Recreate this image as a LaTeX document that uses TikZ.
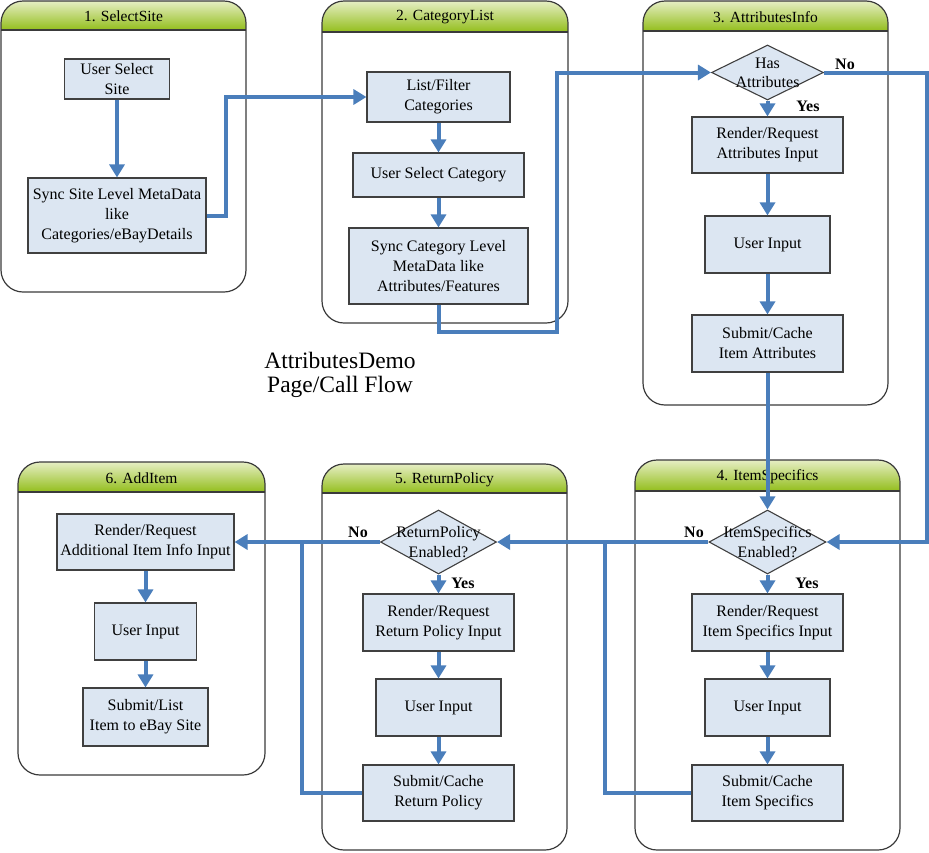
\documentclass[tikz,border=0pt]{standalone}
\usepackage{fontspec}
\setmainfont{Liberation Serif}
\usetikzlibrary{arrows.meta,shapes.geometric}
\definecolor{flow}{HTML}{4A7EBB}
\definecolor{boxfill}{HTML}{DCE6F2}
\definecolor{boxbd}{HTML}{404040}
\definecolor{lanebdc}{HTML}{3A3A3A}
\definecolor{hdtop}{HTML}{E6EEC4}
\definecolor{hdbot}{HTML}{93BE1C}
\tikzset{
  proc/.style={draw=boxbd, fill=boxfill, line width=1.1pt, inner sep=0pt, align=center,
    font=\fontsize{16}{20}\selectfont},
  dia/.style={diamond, draw=boxbd, fill=boxfill, line width=1.1pt, inner sep=0pt},
  diatext/.style={align=center, inner sep=0pt, font=\fontsize{16}{19.5}\selectfont},
  lanebd/.style={draw=lanebdc, line width=1.2pt},
  lanetitle/.style={font=\fontsize{15.5}{18}\selectfont, inner sep=0pt},
  flowline/.style={draw=flow, line width=4pt},
  flowarrow/.style={flowline, -{Triangle[length=13pt,width=15pt]}},
  yn/.style={font=\fontsize{16}{18}\selectfont\bfseries, inner sep=0pt},
}
\newcommand\mylane[7]{%
  \begin{scope}
    \clip[rounded corners=22pt] (#1,#2) rectangle (#3,#4);
    \shade[top color=hdtop, bottom color=hdbot] (#1,#2) rectangle (#3,#5);
  \end{scope}
  \draw[lanebd] (#1,#5) -- (#3,#5);
  \draw[lanebd, rounded corners=22pt] (#1,#2) rectangle (#3,#4);
  \node[lanetitle] (#7) at ({(#1+#3)/2},{(#2+#5)/2+1}) {#6};
}
\begin{document}
\begin{tikzpicture}[x=1pt, y=-1pt]
\useasboundingbox (0,0) rectangle (929,852);

% lanes
\mylane{1}{1}{246}{292}{30}{1. SelectSite}{L1}
\mylane{322}{1}{568}{323}{32}{2. CategoryList}{L2}
\mylane{643}{1}{888}{405}{31}{3. AttributesInfo}{L3}
\mylane{635}{460}{900}{850}{491}{4. ItemSpecifics}{L4}
\mylane{322}{464}{567}{850}{493}{5. ReturnPolicy}{L5}
\mylane{18}{462}{265}{775}{492}{6. AddItem}{L6}

% title
\node[align=center, font=\fontsize{23.5}{24}\selectfont, inner sep=0pt] (title) at (340,375) {AttributesDemo\\Page/Call Flow};

% lane 1
\node[proc, minimum width=105pt, minimum height=40pt] (s1a) at (117,79) {User Select\\Site};
\node[proc, minimum width=178pt, minimum height=75pt] (s1b) at (117,215.5) {Sync Site Level MetaData\\like\\Categories/eBayDetails};

% lane 2
\node[proc, minimum width=143pt, minimum height=50pt] (c2a) at (438.5,97) {List/Filter\\Categories};
\node[proc, minimum width=171pt, minimum height=44pt] (c2b) at (438.5,175) {User Select Category};
\node[proc, minimum width=179pt, minimum height=76pt] (c2c) at (438.5,266) {Sync Category Level\\MetaData like\\Attributes/Features};

% lane 3
\node[dia, minimum width=112pt, minimum height=55pt] (d3) at (767.5,72.5) {};
\node[diatext] (d3t) at (767.5,73) {Has\\Attributes};
\node[proc, minimum width=151pt, minimum height=56pt] (a3a) at (767.5,145) {Render/Request\\Attributes Input};
\node[proc, minimum width=125pt, minimum height=57pt] (a3b) at (767.5,244.5) {User Input};
\node[proc, minimum width=151pt, minimum height=57pt] (a3c) at (767.5,343.5) {Submit/Cache\\Item Attributes};

% lane 4
\node[dia, minimum width=117pt, minimum height=64pt] (d4) at (767.5,542) {};
\node[diatext] (d4t) at (767.5,542) {ItemSpecifics\\Enabled?};
\node[proc, minimum width=151pt, minimum height=57pt] (i4a) at (767.5,622.5) {Render/Request\\Item Specifics Input};
\node[proc, minimum width=125pt, minimum height=57pt] (i4b) at (767.5,707.5) {User Input};
\node[proc, minimum width=151pt, minimum height=56pt] (i4c) at (767.5,793) {Submit/Cache\\Item Specifics};

% lane 5
\node[dia, minimum width=116pt, minimum height=64pt] (d5) at (438.5,542) {};
\node[diatext] (d5t) at (438.5,542) {ReturnPolicy\\Enabled?};
\node[proc, minimum width=151pt, minimum height=57pt] (r5a) at (438.5,622.5) {Render/Request\\Return Policy Input};
\node[proc, minimum width=125pt, minimum height=57pt] (r5b) at (438.5,707.5) {User Input};
\node[proc, minimum width=151pt, minimum height=56pt] (r5c) at (438.5,793) {Submit/Cache\\Return Policy};

% lane 6
\node[proc, minimum width=177pt, minimum height=56pt] (e6a) at (145.5,542) {Render/Request\\Additional Item Info Input};
\node[proc, minimum width=102pt, minimum height=57pt] (e6b) at (145.5,631.5) {User Input};
\node[proc, minimum width=125pt, minimum height=58pt] (e6c) at (145.5,717) {Submit/List\\Item to eBay Site};

% yes/no labels
\node[yn] (no3) at (845,64) {No};
\node[yn] (yes3) at (808,106) {Yes};
\node[yn] (no4) at (694,532) {No};
\node[yn] (yes4) at (807,583) {Yes};
\node[yn] (no5) at (358,532) {No};
\node[yn] (yes5) at (463,583) {Yes};

% junction coordinates
\coordinate (j1) at (226,97);
\coordinate (j2) at (557,332);
\coordinate (j3) at (927,542);
\coordinate (j4) at (605,542);
\coordinate (j5) at (302,542);

% connectors
\draw[flowarrow] (s1a.south) -- (s1b.north);
\draw[flowarrow] (s1b.east) -| (j1) -- (c2a.west);
\draw[flowarrow] (c2a.south) -- (c2b.north);
\draw[flowarrow] (c2b.south) -- (c2c.north);
\draw[flowarrow] (c2c.south) |- (j2) |- (d3.west);
\draw[flowarrow] (d3.south) -- (a3a.north);
\draw[flowarrow] (a3a.south) -- (a3b.north);
\draw[flowarrow] (a3b.south) -- (a3c.north);
\draw[flowarrow] (a3c.south) -- (d4.north);
\draw[flowarrow] (d3.east) -| (j3) -- (d4.east);
\draw[flowarrow] (d4.south) -- (i4a.north);
\draw[flowarrow] (i4a.south) -- (i4b.north);
\draw[flowarrow] (i4b.south) -- (i4c.north);
\draw[flowarrow] (d4.west) -- (d5.east);
\draw[flowline] (i4c.west) -| (j4);
\draw[flowarrow] (d5.south) -- (r5a.north);
\draw[flowarrow] (r5a.south) -- (r5b.north);
\draw[flowarrow] (r5b.south) -- (r5c.north);
\draw[flowarrow] (d5.west) -- (e6a.east);
\draw[flowline] (r5c.west) -| (j5);
\draw[flowarrow] (e6a.south) -- (e6b.north);
\draw[flowarrow] (e6b.south) -- (e6c.north);
\end{tikzpicture}
\end{document}
